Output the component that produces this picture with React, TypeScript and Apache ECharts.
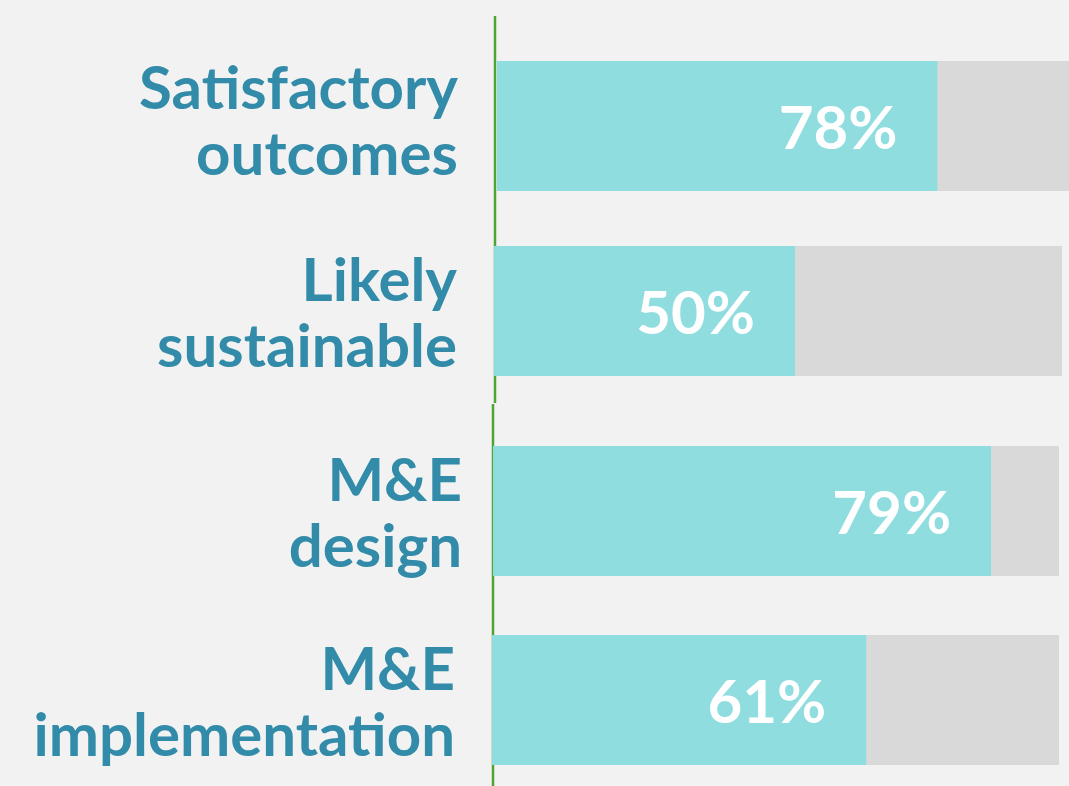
import React, { useEffect, useRef } from "react";
import * as echarts from "echarts";

const categories = ["Satisfactory\noutcomes", "Likely\nsustainable", "M&E\ndesign", "M&E\nimplementation"];
const barLengths = [77, 53, 88, 66];
const valueLabels = ["78%", "50%", "79%", "61%"];

// layout per row (pixel boxes of each bar track)
const rowLeft = [497, 494, 493, 492];
const rowRight = [0, 7, 10, 10];
const rowTop = [61, 246, 446, 635];
const rowHeight = 130;
const labelMargin = [39, 37, 31, 37];
const labelSpacer = [14, 0, 0, 0];

export default function App() {
  const ref = useRef<HTMLDivElement>(null);
  useEffect(() => {
    document.body.style.margin = "0";
    const chart = echarts.init(ref.current!, null, { renderer: "svg" });
    const grids = categories.map((_, i) => ({
      left: rowLeft[i],
      right: rowRight[i],
      top: rowTop[i],
      height: rowHeight,
      containLabel: false,
    }));
    const xAxes = categories.map((_, i) => ({
      type: "value",
      gridIndex: i,
      min: 0,
      max: 100,
      show: false,
    }));
    const yAxes = categories.map((c, i) => ({
      type: "category",
      gridIndex: i,
      data: [c],
      axisLine: { show: false },
      axisTick: { show: false },
      splitLine: { show: false },
      axisLabel: {
        margin: labelMargin[i],
        fontSize: 60,
        fontWeight: "bold",
        fontFamily: "Lato",
        color: "#318ba9",
        lineHeight: 66,
        align: "right",
        formatter: (v: string) => (labelSpacer[i] ? v + "\n{s| }" : v),
        rich: {
          s: { fontSize: 1, lineHeight: labelSpacer[i] || 1 },
        },
      },
    }));
    const series = categories.map((_, i) => ({
      type: "bar",
      xAxisIndex: i,
      yAxisIndex: i,
      data: [barLengths[i]],
      barWidth: rowHeight,
      showBackground: true,
      backgroundStyle: { color: "#d9d9d9" },
      itemStyle: { color: "#90dde0" },
      label: {
        show: true,
        position: "insideRight",
        distance: 40,
        formatter: () => valueLabels[i],
        color: "#ffffff",
        fontSize: 60,
        fontWeight: "bold",
        fontFamily: "Lato",
      },
    }));
    chart.setOption({
      animation: false,
      backgroundColor: "#f2f2f2",
      grid: grids,
      xAxis: xAxes,
      yAxis: yAxes,
      series,
      graphic: [
        {
          type: "line",
          z: -1,
          shape: { x1: 495, y1: 16, x2: 495, y2: 403 },
          style: { stroke: "#4fa434", lineWidth: 2.5 },
        },
        {
          type: "line",
          z: -1,
          shape: { x1: 493, y1: 404, x2: 493, y2: 786 },
          style: { stroke: "#4fa434", lineWidth: 2.5 },
        },
      ],
    });
    return () => chart.dispose();
  }, []);
  return <div ref={ref} style={{ width: 1069, height: 786 }} />;
}
